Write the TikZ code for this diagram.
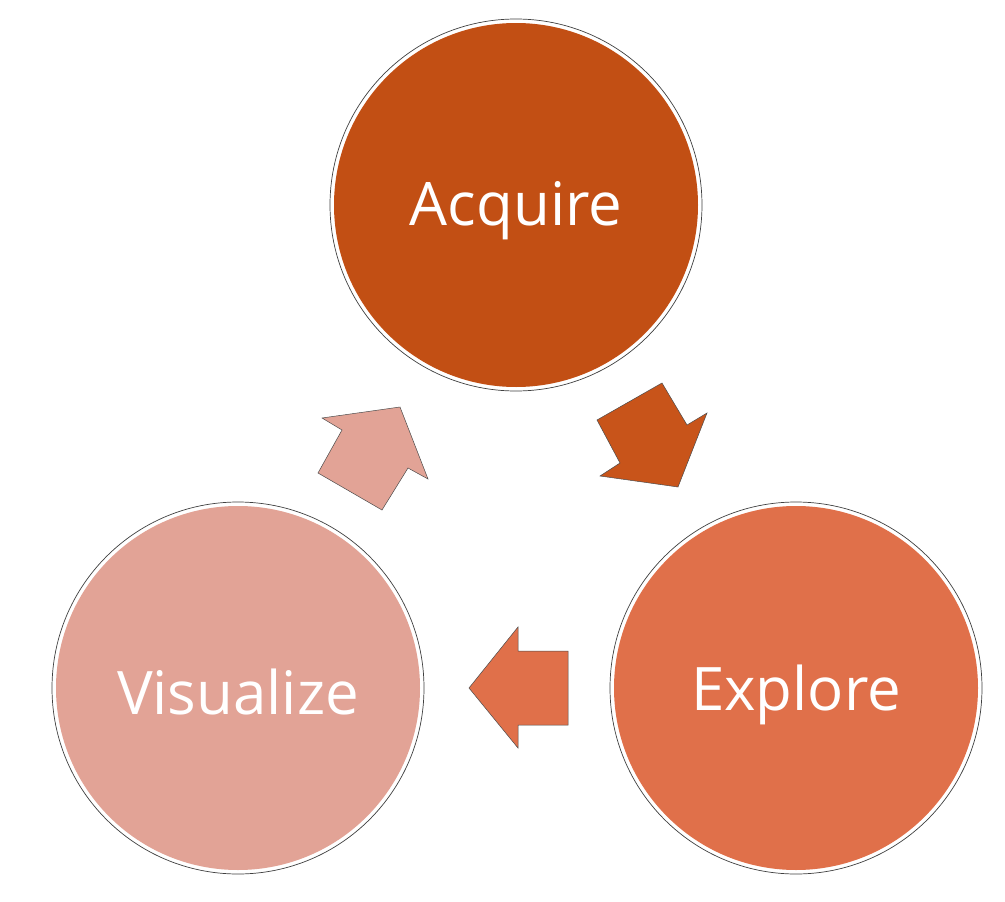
\documentclass[tikz,border=0pt]{standalone}
\usepackage{fontspec}
\setmainfont{Open Sans}
\definecolor{acqc}{HTML}{C24F14}
\definecolor{arr1}{HTML}{C8541A}
\definecolor{expc}{HTML}{E0704A}
\definecolor{visc}{HTML}{E2A396}
\begin{document}
\begin{tikzpicture}[x=1pt,y=-1pt,
  bubble/.style={circle, inner sep=0pt, minimum size=364pt},
  label text/.style={text=white, inner sep=0pt, font=\fontsize{60}{66}\selectfont},
  ring/.style={draw=black!75, line width=0.7pt},
  blockarrow/.style={draw=black!70, line width=0.5pt, line join=miter}]
\fill[white] (0,0) rectangle (1005,902);
\useasboundingbox (0,0) rectangle (1005,902);
% circles
\node[bubble, fill=acqc] (acq) at (516,205) {};
\node[bubble, fill=expc] (exp) at (796,688) {};
\node[bubble, fill=visc] (vis) at (238,688) {};
\draw[ring] (acq.center) circle (186pt);
\draw[ring] (exp.center) circle (186pt);
\draw[ring] (vis.center) circle (186pt);
\node[label text] (acqt) at ([yshift=-6pt]acq.center) {Acquire};
\node[label text] (expt) at ([yshift=-7pt]exp.center) {Explore};
\node[label text] (vist) at ([yshift=-4pt]vis.center) {Visualize};
% block arrows
\filldraw[blockarrow, fill=arr1] (597,420) -- (662,383) -- (687,425) -- (707,413) -- (678,487) -- (600,476) -- (620,463) -- cycle;
\filldraw[blockarrow, fill=expc] (469,688) -- (518,627) -- (518,651) -- (568,651) -- (568,725) -- (518,725) -- (518,748) -- cycle;
\filldraw[blockarrow, fill=visc] (382,510) -- (318,473) -- (342,430) -- (322,418) -- (400,407) -- (428,479) -- (408,468) -- cycle;
\end{tikzpicture}
\end{document}
